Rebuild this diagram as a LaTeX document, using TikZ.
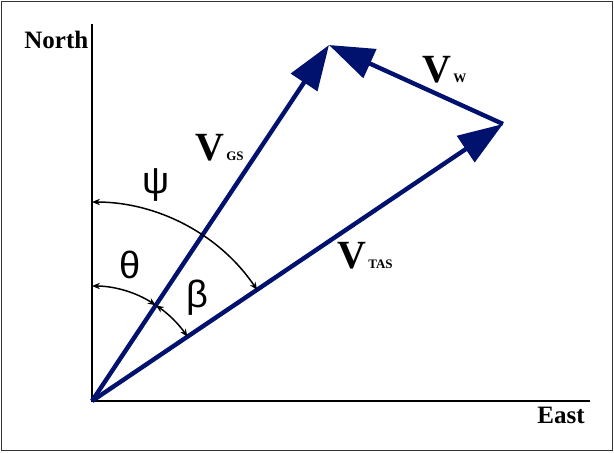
\documentclass[tikz,border=0pt]{standalone}
\usepackage{fontspec}
\setmainfont{Liberation Serif}
\newfontfamily\greekfont{Liberation Sans}
\usetikzlibrary{arrows.meta}
\definecolor{vecblue}{RGB}{0,18,110}
\newcommand\vsub[1]{{\fontsize{6.5}{7}\selectfont\bfseries\hspace{1pt}#1}}

\begin{document}
\begin{tikzpicture}[x=0.5pt,y=0.5pt,
  vec/.style={draw=vecblue,line width=2.2pt,-{Triangle[length=22.5pt,width=15.5pt]}},
  axis/.style={line width=1pt},
  anglearc/.style={line width=0.75pt,{Stealth[length=4pt,width=3.2pt]}-{Stealth[length=4pt,width=3.2pt]}},
  lbl/.style={inner sep=0pt,anchor=base west,font=\fontsize{12.5}{13}\selectfont\bfseries},
  vlabel/.style={inner sep=0pt,anchor=base west,font=\fontsize{20}{20}\selectfont\bfseries},
  greek/.style={inner sep=0pt,font=\greekfont\fontsize{19}{19}\selectfont}]
\useasboundingbox (0,0) rectangle (614,452);
% outline
\draw[line width=0.75pt,black!80] (1.5,1.5) rectangle (612.5,450.5);
% axes
\coordinate (O) at (92,51);
\coordinate (N) at (92,428);
\coordinate (E) at (590,51);
\draw[axis] (N) -- (O) -- (E);
\node[lbl] (north) at (24,404) {North};
\node[lbl,anchor=base east] (east) at (585,29) {East};
% vectors
\coordinate (GS) at (329,407);
\coordinate (TAS) at (503,328);
\draw[vec] (O) -- (TAS);
\draw[vec] (O) -- (GS);
\draw[vec] (TAS) -- (GS);
\node[vlabel] (vgs) at (195,292) {V\vsub{GS}};
\node[vlabel] (vtas) at (337,184) {V\vsub{TAS}};
\node[vlabel] (vw) at (422,370) {V\vsub{W}};
% angles
\draw[anglearc] ([shift={(90:199)}]O) arc[start angle=90,end angle=33.9,radius=199];
\draw[anglearc] ([shift={(90:115)}]O) arc[start angle=90,end angle=56.3,radius=115];
\draw[anglearc] ([shift={(56.3:115)}]O) arc[start angle=56.3,end angle=33.9,radius=115];
\node[greek] (psi) at (156,267) {ψ};
\node[greek] (theta) at (130,187) {θ};
\node[greek] (beta) at (197,154) {β};
\end{tikzpicture}
\end{document}
